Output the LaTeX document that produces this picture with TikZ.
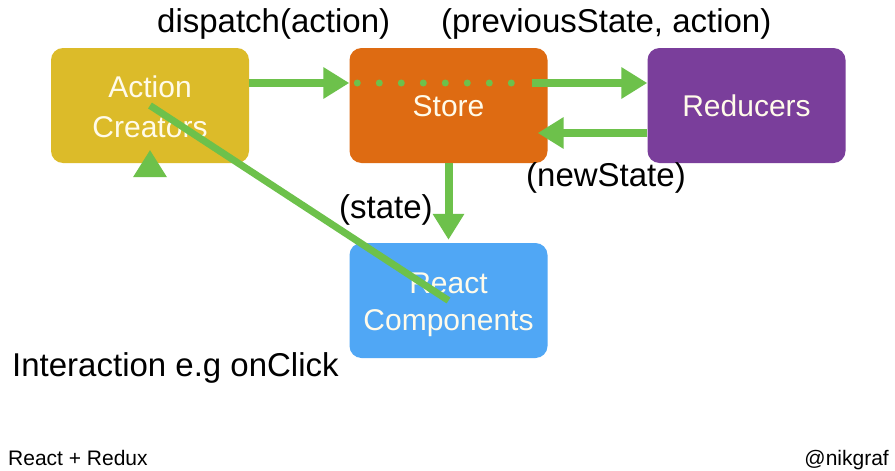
\documentclass[tikz,border=0pt]{standalone}
\usepackage{fontspec}
\setmainfont{Liberation Sans}
\usetikzlibrary{arrows.meta}
\definecolor{acyellow}{HTML}{DCBB29}
\definecolor{storeorange}{HTML}{DE6B12}
\definecolor{redpurple}{HTML}{7A3E9B}
\definecolor{reactblue}{HTML}{50A7F5}
\definecolor{flowgreen}{HTML}{6DC14B}
\definecolor{boxtext}{HTML}{FFFBEA}
\tikzset{
  box/.style={rectangle, rounded corners=12pt, minimum width=198pt, minimum height=115pt, inner sep=0pt, draw=none},
  boxlabel/.style={anchor=base, text=boxtext, font=\fontsize{30}{36}\selectfont, inner sep=0pt},
  caption/.style={anchor=base west, text=black, font=\fontsize{33}{39}\selectfont, inner sep=0pt},
  footer/.style={text=black, font=\fontsize{21}{25}\selectfont, inner sep=0pt},
  flow/.style={draw=flowgreen, line width=8pt, -{Triangle[width=30pt,length=26pt]}},
  plainflow/.style={draw=flowgreen, line width=7pt},
  dots/.style={draw=flowgreen, line width=7pt, line cap=round, dash pattern=on 0pt off 22pt}
}
\begin{document}
\begin{tikzpicture}[x=1pt,y=-1pt]
\useasboundingbox (0,0) rectangle (895,471);
\fill[white] (0,0) rectangle (895,471);

% boxes
\node[box, fill=acyellow] (ac) at (150,105.5) {};
\node[box, fill=storeorange] (st) at (448.5,105.5) {};
\node[box, fill=redpurple] (rd) at (746.5,105.5) {};
\node[box, fill=reactblue] (rc) at (448.5,300.5) {};

% box labels
\node[boxlabel] (acl1) at (150,97) {Action};
\node[boxlabel] (acl2) at (150,137) {Creators};
\node[boxlabel] (stl) at (448.5,116) {Store};
\node[boxlabel] (rdl) at (746.5,116) {Reducers};
\node[boxlabel] (rcl1) at (448.5,293) {React};
\node[boxlabel] (rcl2) at (448.5,330) {Components};

% captions
\node[caption] (cdispatch) at (157,32) {dispatch(action)};
\node[caption] (cprev) at (441,32) {(previousState, action)};
\node[caption] (cstate) at (339,218) {(state)};
\node[caption] (cnew) at (526,186) {(newState)};
\node[caption] (cinter) at (12,376) {Interaction e.g onClick};
\node[footer, anchor=base west] (fleft) at (8,465) {React + Redux};
\node[footer, anchor=base east] (fright) at (889,465) {@nikgraf};

% connectors
\draw[flow] ([yshift=22.5pt]ac.east) -- ([yshift=22.5pt]st.west);
\draw[dots] ([xshift=8pt,yshift=22.5pt]st.west) -- ([xshift=-30pt,yshift=22.5pt]st.east);
\draw[flow] ([xshift=-16pt,yshift=22.5pt]st.east) -- ([yshift=22.5pt]rd.west);
\draw[flow] ([yshift=-27.5pt]rd.west) -- ([xshift=-10pt,yshift=-27.5pt]st.east);
\draw[flow] (st.south) -- ([yshift=3pt]rc.north);
\draw[plainflow] (ac.center) -- (rc.center);

% small triangle under Action Creators
\fill[flowgreen] ([yshift=13pt]ac.south) -- ([xshift=-17pt,yshift=-14pt]ac.south) -- ([xshift=17pt,yshift=-14pt]ac.south) -- cycle;
\end{tikzpicture}
\end{document}
